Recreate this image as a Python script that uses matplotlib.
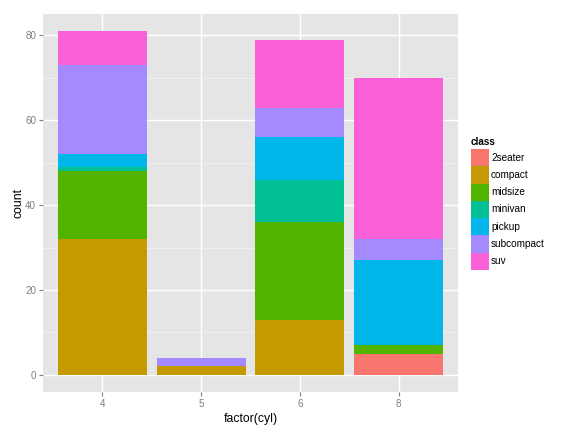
import matplotlib
matplotlib.use("Agg")
import matplotlib.pyplot as plt
from matplotlib.patches import Rectangle
import numpy as np

cyl = ["4", "5", "6", "8"]
classes = ["2seater", "compact", "midsize", "minivan", "pickup", "subcompact", "suv"]
counts = {
    "2seater":    [0, 0, 0, 5],
    "compact":    [32, 2, 13, 0],
    "midsize":    [16, 0, 23, 2],
    "minivan":    [1, 0, 10, 0],
    "pickup":     [3, 0, 10, 20],
    "subcompact": [21, 2, 7, 5],
    "suv":        [8, 0, 16, 38],
}
colors = ["#F8766D", "#C49A00", "#53B400", "#00C094", "#00B6EB", "#A58AFF", "#FB61D7"]

plt.rcParams['font.family'] = ['Liberation Sans', 'DejaVu Sans']

W, H = 576, 432
fig = plt.figure(figsize=(W/100, H/100), dpi=100)
ax = fig.add_axes([43/W, 1-392/H, (458-43)/W, (392-14)/H])
ax.set_facecolor("#E5E5E5")

x = np.arange(1, len(cyl)+1)
bottom = np.zeros(len(cyl))
for c, col in zip(classes, colors):
    v = np.array(counts[c], dtype=float)
    ax.bar(x, v, width=0.9, bottom=bottom, color=col, linewidth=0, zorder=3)
    bottom += v

ax.set_xlim(0.4, 4.6)
ax.set_ylim(-4.05, 85.05)
ax.set_xticks(x)
ax.set_xticklabels(cyl)
ax.set_yticks([0, 20, 40, 60, 80])
ax.set_yticks([10, 30, 50, 70], minor=True)
ax.grid(True, which="major", color="white", linewidth=1.0, zorder=1)
ax.grid(True, which="minor", axis="y", color="#F2F2F2", linewidth=0.6, zorder=1)
ax.set_axisbelow(True)
for s in ax.spines.values():
    s.set_visible(False)
ax.tick_params(axis="both", which="major", colors="#7F7F7F", labelcolor="#7F7F7F",
               length=3, width=0.8, labelsize=7.1, pad=2)
ax.tick_params(axis="both", which="minor", length=0)
ax.set_xlabel("factor(cyl)", fontsize=8.8, color="black", labelpad=3)
ax.set_ylabel("count", fontsize=8.8, color="black", labelpad=0.5)

# legend (manual, ggplot-like)
kx0, kx1 = 471, 489
ky0, kh = 149, 121/7
fig.text(kx0/W, 1-142/H, "class", fontsize=7.2, fontweight="bold",
         ha="left", va="center")
for i, (c, col) in enumerate(zip(classes, colors)):
    top = ky0 + i*kh
    fig.add_artist(Rectangle((kx0/W, 1-(top+kh)/H), (kx1-kx0)/W, kh/H,
                             transform=fig.transFigure, facecolor=col,
                             edgecolor="none"))
    fig.text(491/W, 1-(top+kh/2)/H, c, fontsize=7.2, ha="left", va="center")

fig.savefig("out.png", dpi=100)
